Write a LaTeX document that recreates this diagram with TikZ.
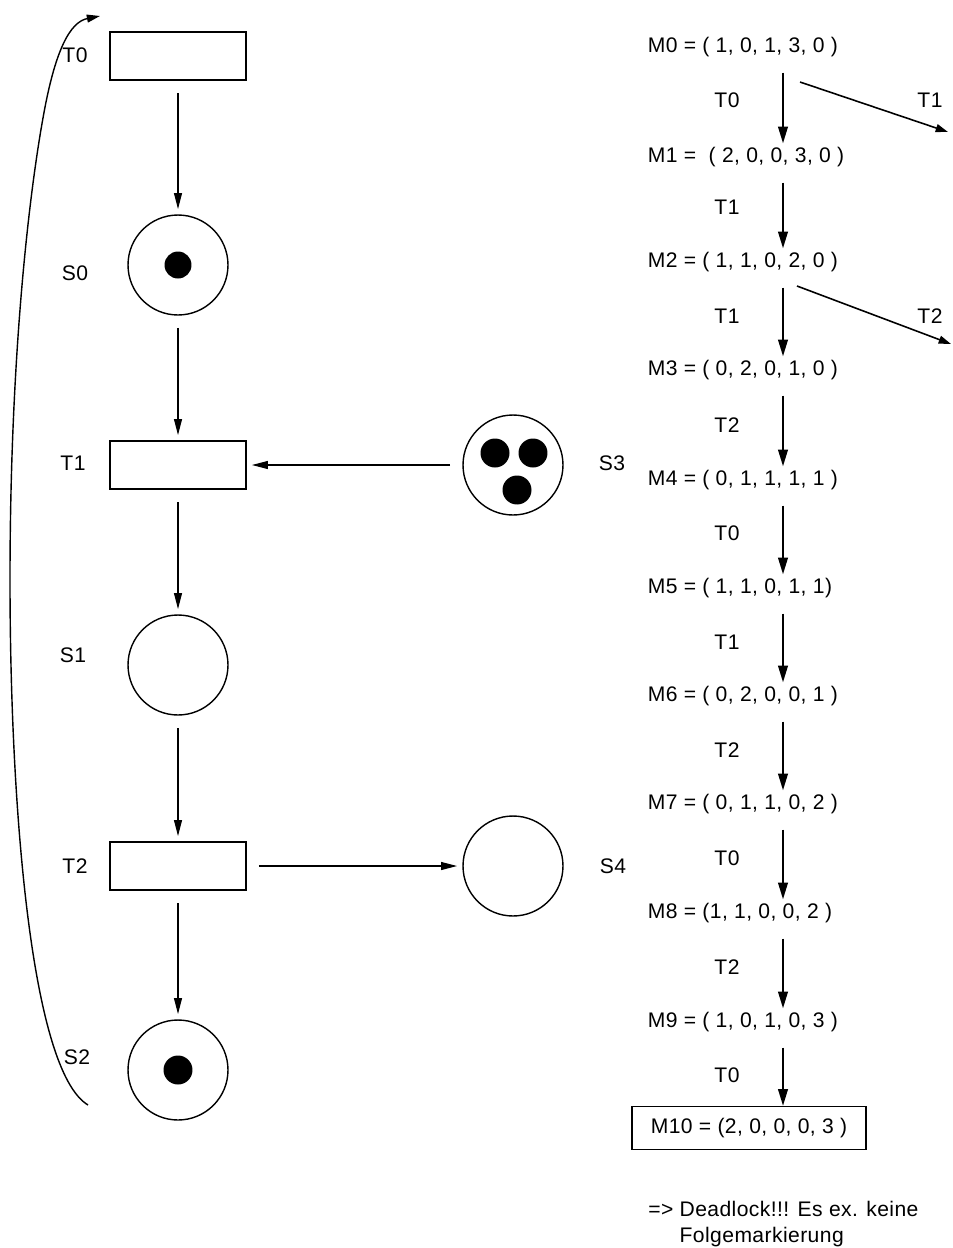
\documentclass[tikz,border=0pt]{standalone}
\usepackage{fontspec}
\setmainfont{Liberation Sans}[LetterSpace=2]
\usepackage{tikz}
\usetikzlibrary{arrows.meta}

\begin{document}
\begin{tikzpicture}[
    x=0.02cm,
    y=-0.02cm,
    font=\fontsize{12}{14.5}\selectfont,
    transition/.style={
        draw,
        line width=0.8pt,
        minimum width=2.72cm,
        minimum height=0.96cm
    },
    place/.style={
        draw,
        circle,
        line width=0.8pt,
        minimum size=2cm
    },
    flow/.style={
        -{Triangle[length=9pt,width=4.5pt]},
        line width=0.6pt,
        shorten >=3pt,
        shorten <=7pt
    },
    step arrow/.style={
        -{Triangle[length=9.5pt,width=5.5pt]},
        line width=1.1pt,
        shorten <=0.24cm
    },
    marking/.style={
        anchor=west,
        inner sep=2pt
    }
]

\useasboundingbox (0,0) rectangle (953,1248);

% Net: transitions and places
\node[transition] (t0) at (178,56) {};
\node[place] (s0) at (178,265) {};
\node[transition] (t1) at (178,465) {};
\node[place] (s3) at (513,465) {};
\node[place] (s1) at (178,665) {};
\node[transition] (t2) at (178,866) {};
\node[place] (s4) at (513,866) {};
\node[place] (s2) at (178,1070) {};

% Tokens
\fill (s0) circle (0.27cm);
\fill (s2) circle (0.29cm);
\fill ([xshift=-0.36cm,yshift=0.24cm]s3.center) circle (0.29cm);
\fill ([xshift=0.40cm,yshift=0.24cm]s3.center) circle (0.29cm);
\fill ([xshift=0.08cm,yshift=-0.50cm]s3.center) circle (0.29cm);

% Names of places and transitions
\node (lt0) at (75,55) {T0};
\node (ls0) at (75,273) {S0};
\node (lt1) at (73,463) {T1};
\node (ls3) at (612,463) {S3};
\node (ls1) at (73,655) {S1};
\node (lt2) at (75,866) {T2};
\node (ls4) at (613,866) {S4};
\node (ls2) at (77,1057) {S2};

% Arcs
\draw[flow] (t0) -- (s0);
\draw[flow] (s0) -- (t1);
\draw[flow] (s3) -- (t1);
\draw[flow] (t1) -- (s1);
\draw[flow] (s1) -- (t2);
\draw[flow] (t2) -- (s4);
\draw[flow] (t2) -- (s2);

% Back arc from S2 to T0
\coordinate (loopstart) at (88,1105);
\coordinate (loopend) at (100,16);
\draw[
    -{Triangle[length=7.5pt,width=4.5pt]},
    line width=0.8pt
] (loopstart) .. controls (30,1070) and (10,800) .. (10,580)
    .. controls (10,350) and (30,190) .. (43,118)
    .. controls (55,50) and (70,22) .. (loopend);


% Reachability: markings
\node[marking] (m0) at (644,47) {M0 = ( 1, 0, 1, 3, 0 )};
\node[marking] (m1) at (644,157) {M1 = \ ( 2, 0, 0, 3, 0 )};
\node[marking] (m2) at (644,262) {M2 = ( 1, 1, 0, 2, 0 )};
\node[marking] (m3) at (644,370) {M3 = ( 0, 2, 0, 1, 0 )};
\node[marking] (m4) at (644,480) {M4 = ( 0, 1, 1, 1, 1 )};
\node[marking] (m5) at (644,588) {M5 = ( 1, 1, 0, 1, 1)};
\node[marking] (m6) at (644,696) {M6 = ( 0, 2, 0, 0, 1 )};
\node[marking] (m7) at (644,804) {M7 = ( 0, 1, 1, 0, 2 )};
\node[marking] (m8) at (644,913) {M8 = (1, 1, 0, 0, 2 )};
\node[marking] (m9) at (644,1022) {M9 = ( 1, 0, 1, 0, 3 )};
\node[
    draw,
    line width=0.8pt,
    minimum width=4.68cm,
    minimum height=0.86cm
] (m10) at (749,1128) {M10 = (2, 0, 0, 0, 3 )};

\coordinate (ax) at (783,0);

% Steps between markings
\draw[step arrow] (m0.south -| ax) -- (m1.north -| ax);
\draw[step arrow] (m1.south -| ax) -- (m2.north -| ax);
\draw[step arrow] (m2.south -| ax) -- (m3.north -| ax);
\draw[step arrow] (m3.south -| ax) -- (m4.north -| ax);
\draw[step arrow] (m4.south -| ax) -- (m5.north -| ax);
\draw[step arrow] (m5.south -| ax) -- (m6.north -| ax);
\draw[step arrow] (m6.south -| ax) -- (m7.north -| ax);
\draw[step arrow] (m7.south -| ax) -- (m8.north -| ax);
\draw[step arrow] (m8.south -| ax) -- (m9.north -| ax);
\draw[step arrow] (m9.south -| ax) -- (m10.north -| ax);

\node (f01) at (727,100) {T0};
\node (f12) at (727,207) {T1};
\node (f23) at (727,316) {T1};
\node (f34) at (727,425) {T2};
\node (f45) at (727,533) {T0};
\node (f56) at (727,642) {T1};
\node (f67) at (727,750) {T2};
\node (f78) at (727,858) {T0};
\node (f89) at (727,967) {T2};
\node (f910) at (727,1075) {T0};

% Side branches
\coordinate (b0s) at (800,82);
\coordinate (b0e) at (948,132);
\coordinate (b2s) at (797,286);
\coordinate (b2e) at (951,344);
\draw[
    -{Triangle[length=7pt,width=4.5pt]},
    line width=0.9pt
] (b0s) -- (b0e);
\draw[
    -{Triangle[length=7pt,width=4.5pt]},
    line width=0.9pt
] (b2s) -- (b2e);
\node (fb0) at (930,100) {T1};
\node (fb2) at (930,316) {T2};

% Conclusion
\node[
    anchor=north west,
    align=left,
    inner sep=0pt
] (dead) at (648,1201) {
    => Deadlock!!! Es ex. keine\\
    \hphantom{=>\ }Folgemarkierung
};

\end{tikzpicture}
\end{document}
